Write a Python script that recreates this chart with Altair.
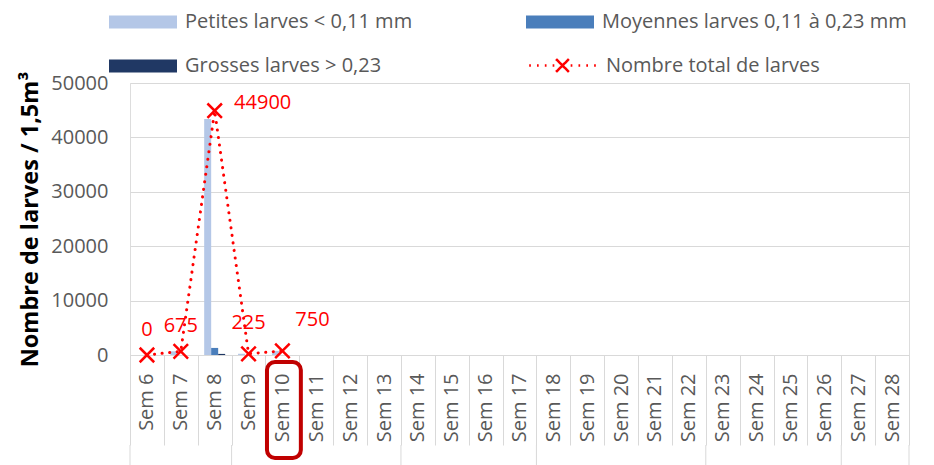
import altair as alt
import pandas as pd

weeks = ["Sem 6", "Sem 7", "Sem 8", "Sem 9", "Sem 10", "Sem 11", "Sem 12", "Sem 13",
         "Sem 14", "Sem 15", "Sem 16", "Sem 17", "Sem 18", "Sem 19", "Sem 20", "Sem 21",
         "Sem 22", "Sem 23", "Sem 24", "Sem 25", "Sem 26", "Sem 27", "Sem 28"]

data_weeks = ["Sem 6", "Sem 7", "Sem 8", "Sem 9", "Sem 10"]
petites = [0, 675, 43400, 225, 750]
moyennes = [0, 0, 1300, 0, 0]
grosses = [0, 0, 200, 0, 0]
total = [0, 675, 44900, 225, 750]

sizes = ["Petites larves < 0,11 mm", "Moyennes larves 0,11 à 0,23 mm", "Grosses larves > 0,23"]
size_colors = ["#B4C7E7", "#4A7EBB", "#203864"]
total_label = "Nombre total de larves"

month_starts = ["Sem 6", "Sem 9", "Sem 14", "Sem 18", "Sem 23", "Sem 27"]
month_end = ["Sem 28"]
highlight = ["Sem 10"]

y_ticks = [0, 10000, 20000, 30000, 40000, 50000]

FONT = "Open Sans"
GREY = "#595959"
GRID = "#D9D9D9"
RED = "#FF0000"

rows = []
for i, w in enumerate(data_weeks):
    for s, vals in zip(sizes, [petites, moyennes, grosses]):
        rows.append({"semaine": w, "taille": s, "valeur": vals[i]})
df_bars = pd.DataFrame(rows)
df_tot = pd.DataFrame({"semaine": data_weeks, "total": total, "serie": [total_label] * len(data_weeks)})
df_months = pd.DataFrame({"semaine": month_starts})
df_end = pd.DataFrame({"semaine": month_end})
df_hl = pd.DataFrame({"semaine": highlight})

x_scale = alt.Scale(domain=weeks, paddingInner=0, paddingOuter=0)
x_axis = alt.Axis(
    labelAngle=270, labelAlign="right", labelBaseline="middle", labelFont=FONT,
    labelFontSize=20, labelColor=GREY, labelPadding=-72, tickBand="extent",
    tickSize=90, tickColor=GRID, tickWidth=1, domainColor=GRID, domainWidth=1,
    grid=False, title=None,
)
y_scale = alt.Scale(domain=[0, 50000], nice=False)
y_axis = alt.Axis(
    values=y_ticks, format="d", labelFont=FONT, labelFontSize=20, labelColor=GREY,
    labelPadding=22, ticks=False, domain=False, grid=True, gridColor=GRID, gridWidth=1,
    title="Nombre de larves / 1,5m³", titleFont=FONT, titleFontSize=23.5,
    titleFontWeight="bold", titleColor="#000000", titlePadding=8,
)


def X(**kw):
    return alt.X("semaine:N", scale=x_scale, sort=weeks, axis=x_axis, **kw)


def Y(field):
    return alt.Y(field, type="quantitative", scale=y_scale, axis=y_axis)


bars = alt.Chart(df_bars).mark_bar().encode(
    x=X(),
    y=Y("valeur"),
    xOffset=alt.XOffset("taille:N", sort=sizes,
                        scale=alt.Scale(domain=sizes, paddingInner=0, paddingOuter=0.92)),
    color=alt.Color("taille:N", sort=sizes,
                    scale=alt.Scale(domain=sizes, range=size_colors),
                    legend=alt.Legend(
                        orient="none", legendX=-21, legendY=-95, columns=2,
                        direction="horizontal", title=None,
                        symbolType="M-1,-0.19H1V0.19H-1Z", symbolSize=4624,
                        symbolStrokeWidth=0, labelFont=FONT, labelFontSize=20,
                        labelColor=GREY, labelOffset=8, columnPadding=113,
                        rowPadding=-24, padding=0, labelLimit=400)),
)

line_symbol = ("M-0.98,0H-0.93M-0.75,0H-0.70M-0.52,0H-0.47M-0.29,0H-0.24"
               "M-0.19,-0.19L0.19,0.19M-0.19,0.19L0.19,-0.19"
               "M0.24,0H0.29M0.47,0H0.52M0.70,0H0.75M0.93,0H0.98")

line = alt.Chart(df_tot).mark_line(strokeDash=[0.1, 7.5], strokeCap="round", strokeWidth=3).encode(
    x=X(),
    y=Y("total"),
    stroke=alt.Stroke("serie:N", scale=alt.Scale(domain=[total_label], range=[RED]),
                      legend=alt.Legend(
                          orient="none", legendX=397, legendY=-53, title=None,
                          symbolType=line_symbol, symbolSize=4624, symbolStrokeWidth=2.5,
                          symbolDash=[1, 0], labelFont=FONT, labelFontSize=20,
                          labelColor=GREY, labelOffset=8, padding=0, labelLimit=400)),
)

points = alt.Chart(df_tot).mark_point(
    shape="M-1,-1L1,1M-1,1L1,-1", size=210, strokeWidth=2.5, color=RED,
    filled=False, opacity=1,
).encode(x=X(), y=Y("total"))

txt_style = dict(color=RED, font=FONT, fontSize=20)
labels_a = alt.Chart(df_tot).transform_filter(
    alt.FieldOneOfPredicate(field="semaine", oneOf=["Sem 6", "Sem 7"])
).mark_text(dy=-25, **txt_style).encode(x=X(), y=Y("total"), text=alt.Text("total:Q", format="d"))
labels_b = alt.Chart(df_tot).transform_filter(
    alt.FieldOneOfPredicate(field="semaine", oneOf=["Sem 9"])
).mark_text(dy=-31, **txt_style).encode(x=X(), y=Y("total"), text=alt.Text("total:Q", format="d"))
labels_c = alt.Chart(df_tot).transform_filter(
    alt.FieldOneOfPredicate(field="semaine", oneOf=["Sem 10"])
).mark_text(dx=30, dy=-31, **txt_style).encode(x=X(), y=Y("total"), text=alt.Text("total:Q", format="d"))
labels_d = alt.Chart(df_tot).transform_filter(
    alt.FieldOneOfPredicate(field="semaine", oneOf=["Sem 8"])
).mark_text(dx=48, dy=-8, **txt_style).encode(x=X(), y=Y("total"), text=alt.Text("total:Q", format="d"))

month_rules = alt.Chart(df_months).mark_rule(color=GRID, strokeWidth=1).encode(
    x=X(bandPosition=0), y=alt.value(362), y2=alt.value(400))
end_rule = alt.Chart(df_end).mark_rule(color=GRID, strokeWidth=1).encode(
    x=X(bandPosition=1), y=alt.value(362), y2=alt.value(400))

hl = alt.Chart(df_hl).mark_rect(
    fill="transparent", stroke="#C00000", strokeWidth=4, cornerRadius=8,
    xOffset=1.5, x2Offset=1.5,
).encode(x=X(), y=alt.value(279), y2=alt.value(375))

chart = alt.layer(
    bars, month_rules, end_rule, line, points, labels_a, labels_b, labels_c, labels_d, hl
).properties(
    width=779, height=272,
    autosize=alt.AutoSizeParams(type="none"),
    padding={"left": 122, "top": 75, "right": 17, "bottom": 110},
).configure_view(stroke=None).configure(background="white")

chart.save("out.html", embed_options={"renderer": "svg", "actions": False})
